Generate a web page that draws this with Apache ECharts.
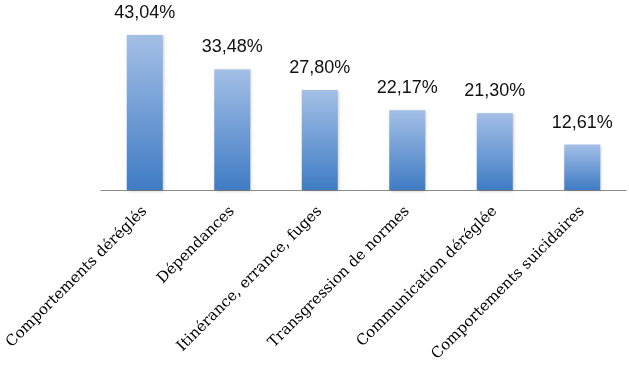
<!DOCTYPE html>
<html><head><meta charset="utf-8">
<script src="https://cdn.jsdelivr.net/npm/echarts@6/dist/echarts.min.js"></script>
<style>html,body{margin:0;padding:0;background:#fff}#c{width:629px;height:368px}</style>
</head><body><div id="c"></div>
<script>
const categories = ["Comportements déréglés","Dépendances","Itinérance, errance, fuges","Transgression de normes","Communication déréglée","Comportements suicidaires"];
const values = [43.04,33.48,27.80,22.17,21.30,12.61];
const chart = echarts.init(document.getElementById('c'));
chart.setOption({
  animation:false,
  grid:{left:101,right:3,top:10,bottom:178},
  xAxis:{type:'category',data:categories,
    axisLine:{lineStyle:{color:'#8c8c8c',width:1}},
    axisTick:{length:6,lineStyle:{color:'#8c8c8c'}},
    axisLabel:{rotate:45,interval:0,margin:19,color:'#000',fontFamily:'DejaVu Serif',fontSize:15}},
  yAxis:{type:'value',min:0,max:50,show:false,splitLine:{show:false}},
  series:[{type:'bar',data:values,barWidth:36,
    itemStyle:{color:new echarts.graphic.LinearGradient(0,0,0,1,[{offset:0,color:'#a3bfe6'},{offset:1,color:'#3f7cc4'}]),
      shadowColor:'rgba(0,0,0,0.25)',shadowBlur:3,shadowOffsetX:1,shadowOffsetY:1},
    label:{show:true,position:'top',distance:13,color:'#111',fontFamily:'Liberation Sans',fontSize:18,
      formatter:p=>p.value.toFixed(2).replace('.',',')+'%'}}]
});
</script></body></html>
